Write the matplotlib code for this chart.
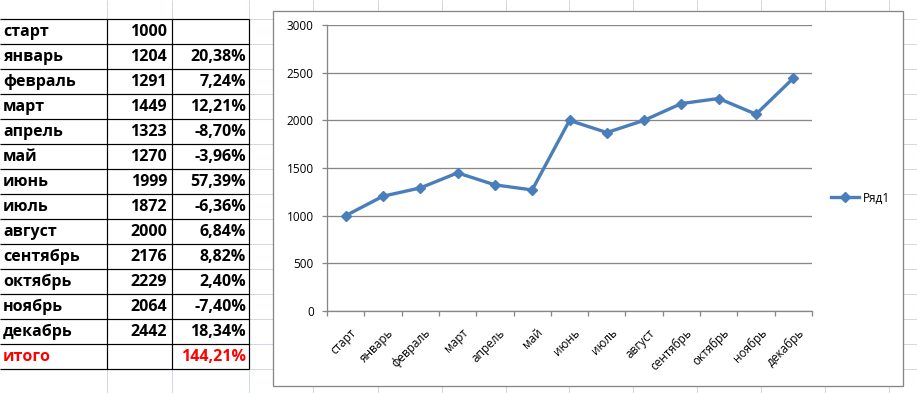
import matplotlib.pyplot as plt
import matplotlib.transforms as mtransforms
from matplotlib.patches import Rectangle

months = ["старт", "январь", "февраль", "март", "апрель", "май", "июнь",
          "июль", "август", "сентябрь", "октябрь", "ноябрь", "декабрь"]
values = [1000, 1204, 1291, 1449, 1323, 1270, 1999, 1872, 2000, 2176, 2229, 2064, 2442]
changes = [None, 20.38, 7.24, 12.21, -8.70, -3.96, 57.39, -6.36, 6.84, 8.82, 2.40, -7.40, 18.34]
total_label = "итого"
total_change = 144.21
series_name = "Ряд1"
y_ticks = [0, 500, 1000, 1500, 2000, 2500, 3000]

plt.rcParams['font.family'] = ['Open Sans', 'DejaVu Sans']

W, H = 917, 393
fig = plt.figure(figsize=(W / 100, H / 100), dpi=100)

#background "spreadsheet" in pixel coordinates
bg = fig.add_axes([0, 0, 1, 1])
bg.set_xlim(0, W)
bg.set_ylim(H, 0)
bg.axis("off")

sheet_grid = "#d0d7e5"
px = 0.72  # one pixel in points
col_x = [107, 172, 249, 313, 378, 442, 506, 569, 633, 697, 761, 825, 889]
row_y = [19 + 25 * k for k in range(16)]
bg.vlines(col_x, 0, H, color=sheet_grid, lw=px)
bg.hlines(row_y, 0, W, color=sheet_grid, lw=px)

#table borders
n_rows = len(months) + 1
top = row_y[0]
bottom = row_y[n_rows]
bg.hlines(row_y[:n_rows + 1], 0, 249, color="black", lw=px * 1.2)
bg.vlines([107, 172, 249], top, bottom, color="black", lw=px * 1.2)

#table text
cell_font = dict(fontsize=11.5, fontweight="bold", va="center")
for i, name in enumerate(months):
    yc = top + 25 * i + 13
    bg.text(3, yc, name, ha="left", **cell_font)
    bg.text(167, yc, str(values[i]), ha="right", **cell_font)
    if changes[i] is not None:
        bg.text(246, yc, f"{changes[i]:.2f}%".replace(".", ","), ha="right", **cell_font)
yc = top + 25 * len(months) + 13
bg.text(3, yc, total_label, ha="left", color="red", **cell_font)
bg.text(246, yc, f"{total_change:.2f}%".replace(".", ","), ha="right", color="red", **cell_font)

#chart area frame (on top of the sheet grid)
bg.add_patch(Rectangle((273, 11), 630, 375, facecolor="white", edgecolor="#868686",
                       lw=px * 1.3, zorder=5))

#plot area
chart_grey = "#878787"
ax = fig.add_axes([327 / W, 1 - 311 / H, (812 - 327) / W, (311 - 25) / H])
x = list(range(len(months)))
ax.plot(x, values, color="#4a7ebb", lw=2.4, marker="D", markersize=5.5, label=series_name)
ax.set_xlim(-0.5, len(months) - 0.5)
ax.set_ylim(0, 3000)
ax.set_yticks(y_ticks)
ax.set_yticklabels([str(v) for v in y_ticks], fontsize=8.5)
ax.yaxis.grid(True, color=chart_grey, lw=px * 1.3)
ax.set_axisbelow(True)
for side in ["top", "right"]:
    ax.spines[side].set_visible(False)
for side in ["left", "bottom"]:
    ax.spines[side].set_color(chart_grey)
    ax.spines[side].set_linewidth(px * 1.3)
ax.tick_params(axis="y", length=3.6, width=px * 1.3, color=chart_grey, pad=6)

#category labels at centres, tick marks between categories
ax.set_xticks(x)
ax.set_xticklabels(months, fontsize=8.5, rotation=45, ha="right", va="top", rotation_mode="anchor")
ax.set_xticks([v - 0.5 for v in range(len(months) + 1)], minor=True)
ax.tick_params(axis="x", which="major", length=0, pad=11)
ax.tick_params(axis="x", which="minor", length=3.3, width=px * 1.3, color=chart_grey)
shift = mtransforms.ScaledTranslation(4 / 100, 0, fig.dpi_scale_trans)
for lab in ax.get_xticklabels():
    lab.set_transform(lab.get_transform() + shift)

fig.legend(loc="center left", bbox_to_anchor=(831 / W, 1 - 198 / H), frameon=False,
           fontsize=8.5, handlelength=2.4, handletextpad=0.3, borderpad=0, borderaxespad=0)

fig.savefig("out.png", dpi=100)
